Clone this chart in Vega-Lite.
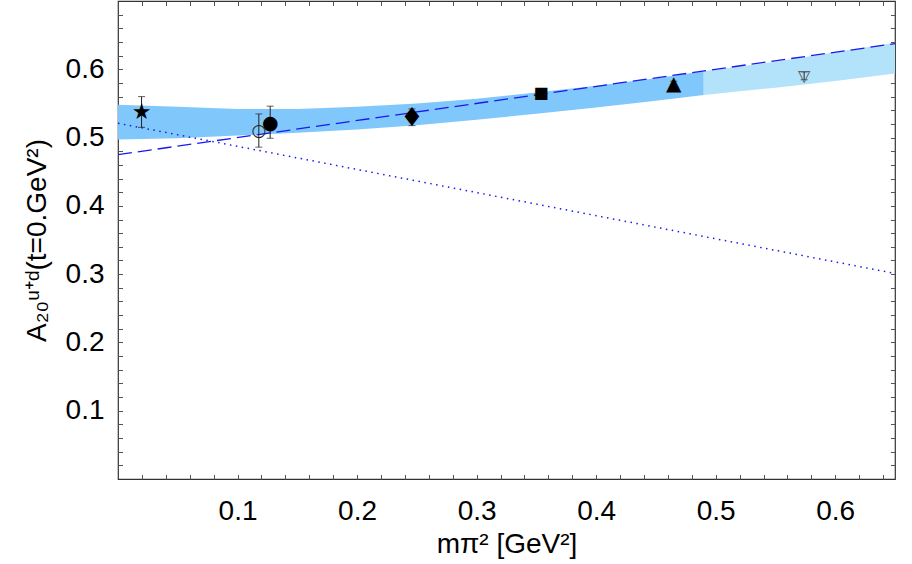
{
  "$schema": "https://vega.github.io/schema/vega-lite/v6.json",
  "width": 777,
  "height": 478,
  "autosize": {"type": "none"},
  "padding": {"left": 118, "top": 1, "right": 17, "bottom": 85},
  "background": "white",
  "config": {
    "view": {"stroke": "#333333", "strokeWidth": 1.2},
    "axis": {"domain": false, "grid": false, "labelFont": "Liberation Sans", "labelFontSize": 28, "labelColor": "black", "titleFont": "Liberation Sans", "titleFontSize": 28, "titleFontWeight": "normal", "titleColor": "black", "tickColor": "#555555", "tickWidth": 1, "tickSize": 4.5, "offset": -4.5, "labelFlush": false, "labelOverlap": false}
  },
  "datasets": {
    "bandA": [
      {"x": 0.0, "lo": 0.497, "hi": 0.548},
      {"x": 0.05, "lo": 0.499, "hi": 0.545},
      {"x": 0.1, "lo": 0.503, "hi": 0.542},
      {"x": 0.15, "lo": 0.507, "hi": 0.542},
      {"x": 0.2, "lo": 0.512, "hi": 0.545},
      {"x": 0.25, "lo": 0.518, "hi": 0.55},
      {"x": 0.3, "lo": 0.526, "hi": 0.557},
      {"x": 0.35, "lo": 0.535, "hi": 0.566},
      {"x": 0.4, "lo": 0.544, "hi": 0.576},
      {"x": 0.45, "lo": 0.554, "hi": 0.587},
      {"x": 0.49, "lo": 0.5625, "hi": 0.597}
    ],
    "bandB": [
      {"x": 0.49, "lo": 0.5625, "hi": 0.597},
      {"x": 0.55, "lo": 0.573, "hi": 0.611},
      {"x": 0.6, "lo": 0.583, "hi": 0.625},
      {"x": 0.65, "lo": 0.594, "hi": 0.639}
    ],
    "dash": [
      {"x": 0.0, "lo": 0.475},
      {"x": 0.65, "lo": 0.6375}
    ],
    "dot": [
      {"x": 0.0, "lo": 0.521},
      {"x": 0.65, "lo": 0.301}
    ],
    "pts": [
      {"x": 0.0197, "y": 0.537, "lo": 0.515, "hi": 0.56, "sym": "star"},
      {"x": 0.1178, "y": 0.51, "lo": 0.486, "hi": 0.5346, "sym": "ocircle"},
      {"x": 0.1273, "y": 0.522, "lo": 0.499, "hi": 0.546, "sym": "circle"},
      {"x": 0.2459, "y": 0.5288, "lo": 0.5175, "hi": 0.542, "sym": "diamond"},
      {"x": 0.354, "y": 0.5657, "lo": 0.561, "hi": 0.5705, "sym": "square"},
      {"x": 0.4649, "y": 0.5785, "lo": 0.5745, "hi": 0.5825, "sym": "triangle"},
      {"x": 0.574, "y": 0.5895, "lo": 0.5847, "hi": 0.596, "sym": "otriangle"}
    ]
  },
  "encoding": {
    "x": {"field": "x", "type": "quantitative", "scale": {"domain": [0, 0.65], "nice": false, "zero": false}, "axis": null},
    "y": {"field": "lo", "type": "quantitative", "scale": {"domain": [0, 0.7], "nice": false, "zero": false}, "axis": null}
  },
  "layer": [
    {
      "data": {"name": "bandA"},
      "mark": {"type": "area", "color": "#80c8fc", "opacity": 1},
      "encoding": {
        "x": {"field": "x", "type": "quantitative", "scale": {"domain": [0, 0.65], "nice": false, "zero": false},
          "axis": {"orient": "bottom", "values": [0.02,0.04,0.06,0.08,0.1,0.12,0.14,0.16,0.18,0.2,0.22,0.24,0.26,0.28,0.3,0.32,0.34,0.36,0.38,0.4,0.42,0.44,0.46,0.48,0.5,0.52,0.54,0.56,0.58,0.6,0.62,0.64],
            "format": ".1f", "labelExpr": "abs(datum.value*10 - round(datum.value*10)) < 0.001 ? datum.label : ''",
            "labelPadding": 18, "title": "mπ² [GeV²]", "titlePadding": 5}},
        "y": {"field": "lo", "type": "quantitative", "scale": {"domain": [0, 0.7], "nice": false, "zero": false},
          "axis": {"orient": "left", "values": [0.02,0.04,0.06,0.08,0.1,0.12,0.14,0.16,0.18,0.2,0.22,0.24,0.26,0.28,0.3,0.32,0.34,0.36,0.38,0.4,0.42,0.44,0.46,0.48,0.5,0.52,0.54,0.56,0.58,0.6,0.62,0.64,0.66,0.68],
            "format": ".1f", "labelExpr": "abs(datum.value*10 - round(datum.value*10)) < 0.001 ? datum.label : ''",
            "labelPadding": 14, "title": "A₂₀ᵘ⁺ᵈ(t=0.GeV²)", "titlePadding": 14}},
        "y2": {"field": "hi"}
      }
    },
    {
      "data": {"name": "bandB"},
      "mark": {"type": "area", "color": "#b3e2fb", "opacity": 1},
      "encoding": {
        "x": {"field": "x", "type": "quantitative", "scale": {"domain": [0, 0.65], "nice": false, "zero": false},
          "axis": {"orient": "top", "values": [0.02,0.04,0.06,0.08,0.1,0.12,0.14,0.16,0.18,0.2,0.22,0.24,0.26,0.28,0.3,0.32,0.34,0.36,0.38,0.4,0.42,0.44,0.46,0.48,0.5,0.52,0.54,0.56,0.58,0.6,0.62,0.64], "labels": false, "title": null}},
        "y": {"field": "lo", "type": "quantitative", "scale": {"domain": [0, 0.7], "nice": false, "zero": false},
          "axis": {"orient": "right", "values": [0.02,0.04,0.06,0.08,0.1,0.12,0.14,0.16,0.18,0.2,0.22,0.24,0.26,0.28,0.3,0.32,0.34,0.36,0.38,0.4,0.42,0.44,0.46,0.48,0.5,0.52,0.54,0.56,0.58,0.6,0.62,0.64,0.66,0.68], "labels": false, "title": null}},
        "y2": {"field": "hi"}
      }
    },
    {
      "data": {"name": "dash"},
      "mark": {"type": "line", "color": "#1a1aee", "strokeWidth": 1.3, "strokeDash": [14, 6]},
      "encoding": {}
    },
    {
      "data": {"name": "dot"},
      "mark": {"type": "line", "color": "#1a1aee", "strokeWidth": 1.5, "strokeDash": [1.5, 4.5]},
      "encoding": {}
    },
    {
      "data": {"name": "pts"},
      "mark": {"type": "rule", "color": "#222222", "strokeWidth": 1},
      "encoding": {"y2": {"field": "hi"}}
    },
    {
      "data": {"name": "pts"},
      "transform": [{"fold": ["lo", "hi"], "as": ["end", "val"]}],
      "mark": {"type": "tick", "orient": "horizontal", "color": "#222222", "size": 7, "thickness": 1},
      "encoding": {"y": {"field": "val", "type": "quantitative", "scale": {"domain": [0, 0.7], "nice": false, "zero": false}, "axis": null}}
    },
    {
      "data": {"name": "pts"},
      "transform": [{"filter": "datum.sym == 'star'"}],
      "mark": {"type": "text", "text": "★", "font": "DejaVu Sans", "fontSize": 22, "color": "black", "align": "center", "baseline": "middle"},
      "encoding": {"y": {"field": "y", "type": "quantitative", "scale": {"domain": [0, 0.7], "nice": false, "zero": false}, "axis": null}}
    },
    {
      "data": {"name": "pts"},
      "transform": [{"filter": "datum.sym == 'ocircle'"}],
      "mark": {"type": "text", "text": "○", "font": "DejaVu Sans", "fontSize": 17, "color": "#222222", "align": "center", "baseline": "middle"},
      "encoding": {"y": {"field": "y", "type": "quantitative", "scale": {"domain": [0, 0.7], "nice": false, "zero": false}, "axis": null}}
    },
    {
      "data": {"name": "pts"},
      "transform": [{"filter": "datum.sym == 'circle'"}],
      "mark": {"type": "text", "text": "●", "font": "DejaVu Sans", "fontSize": 19, "color": "black", "align": "center", "baseline": "middle"},
      "encoding": {"y": {"field": "y", "type": "quantitative", "scale": {"domain": [0, 0.7], "nice": false, "zero": false}, "axis": null}}
    },
    {
      "data": {"name": "pts"},
      "transform": [{"filter": "datum.sym == 'diamond'"}],
      "mark": {"type": "text", "text": "♦", "font": "DejaVu Sans", "fontSize": 26, "color": "black", "align": "center", "baseline": "middle"},
      "encoding": {"y": {"field": "y", "type": "quantitative", "scale": {"domain": [0, 0.7], "nice": false, "zero": false}, "axis": null}}
    },
    {
      "data": {"name": "pts"},
      "transform": [{"filter": "datum.sym == 'square'"}],
      "mark": {"type": "text", "text": "■", "font": "DejaVu Sans", "fontSize": 16, "color": "black", "align": "center", "baseline": "middle"},
      "encoding": {"y": {"field": "y", "type": "quantitative", "scale": {"domain": [0, 0.7], "nice": false, "zero": false}, "axis": null}}
    },
    {
      "data": {"name": "pts"},
      "transform": [{"filter": "datum.sym == 'triangle'"}],
      "mark": {"type": "text", "text": "▲", "font": "DejaVu Sans", "fontSize": 20, "color": "black", "align": "center", "baseline": "middle"},
      "encoding": {"y": {"field": "y", "type": "quantitative", "scale": {"domain": [0, 0.7], "nice": false, "zero": false}, "axis": null}}
    },
    {
      "data": {"name": "pts"},
      "transform": [{"filter": "datum.sym == 'otriangle'"}],
      "mark": {"type": "text", "text": "▽", "font": "DejaVu Sans", "fontSize": 16, "color": "#555555", "align": "center", "baseline": "middle"},
      "encoding": {"y": {"field": "y", "type": "quantitative", "scale": {"domain": [0, 0.7], "nice": false, "zero": false}, "axis": null}}
    }
  ],
  "resolve": {"axis": {"x": "independent", "y": "independent"}}
}
